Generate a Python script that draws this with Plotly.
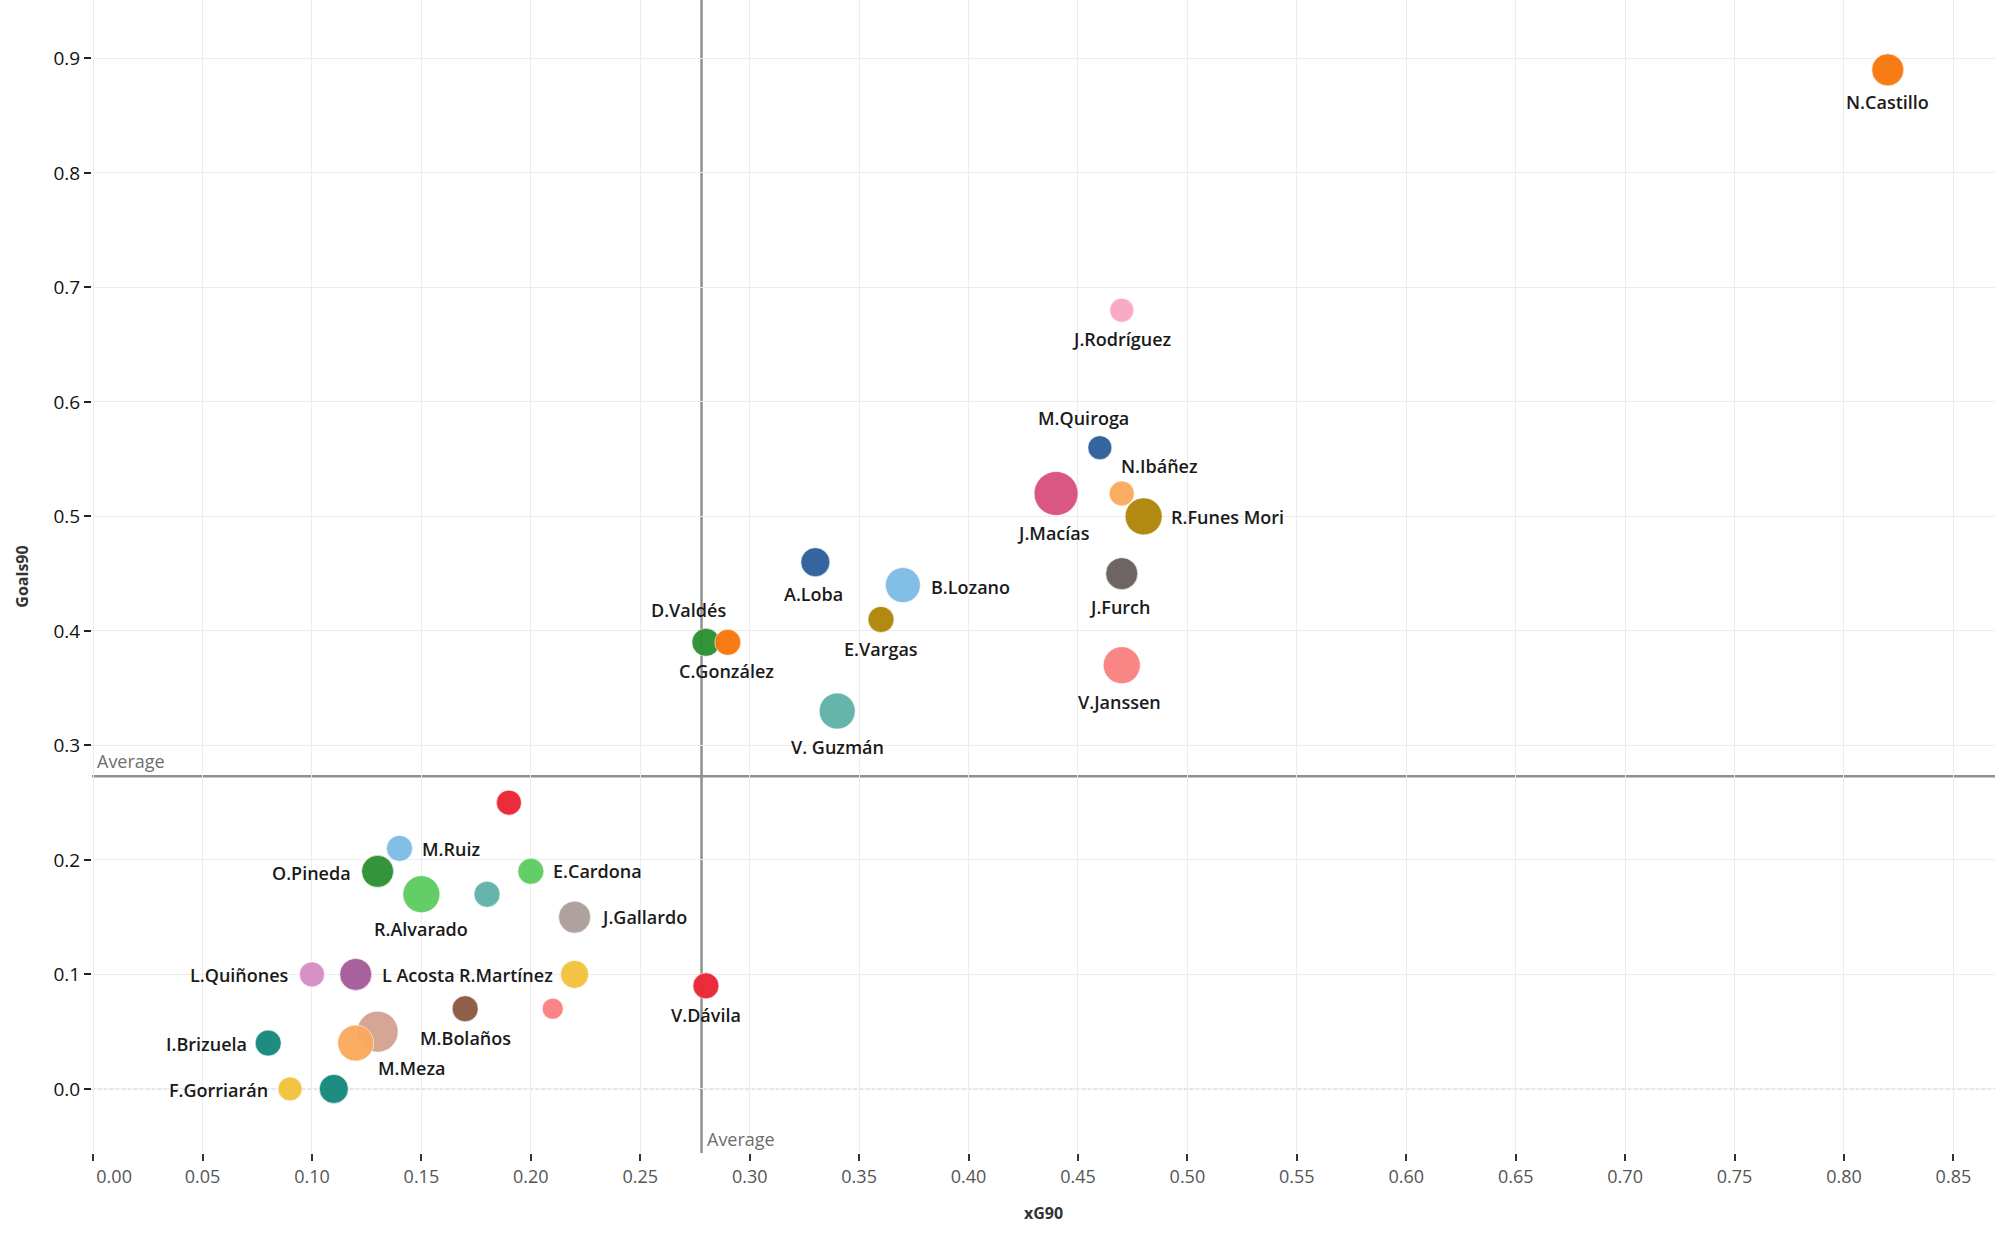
import plotly.graph_objects as go

# ---------------- data ----------------
players = ["N.Castillo", "J.Rodríguez", "M.Quiroga", "N.Ibáñez", "J.Macías",
           "R.Funes Mori", "J.Furch", "V.Janssen", "A.Loba", "B.Lozano",
           "E.Vargas", "D.Valdés", "C.González", "V. Guzmán", "",
           "M.Ruiz", "O.Pineda", "R.Alvarado", "", "E.Cardona",
           "J.Gallardo", "L.Quiñones", "L Acosta", "R.Martínez", "M.Bolaños",
           "", "V.Dávila", "I.Brizuela", "M.Meza", "",
           "F.Gorriarán", ""]
xg90 = [0.82, 0.47, 0.46, 0.47, 0.44,
        0.48, 0.47, 0.47, 0.33, 0.37,
        0.36, 0.28, 0.29, 0.34, 0.19,
        0.14, 0.13, 0.15, 0.18, 0.20,
        0.22, 0.10, 0.12, 0.22, 0.17,
        0.21, 0.28, 0.08, 0.13, 0.12,
        0.09, 0.11]
goals90 = [0.89, 0.68, 0.56, 0.52, 0.52,
           0.50, 0.45, 0.37, 0.46, 0.44,
           0.41, 0.39, 0.39, 0.33, 0.25,
           0.21, 0.19, 0.17, 0.17, 0.19,
           0.15, 0.10, 0.10, 0.10, 0.07,
           0.07, 0.09, 0.04, 0.05, 0.04,
           0.00, 0.00]
bubble = [32, 24, 24, 25, 44,
          37, 32, 37, 29, 35,
          26, 28, 26, 36, 25,
          26, 32, 37, 26, 26,
          32, 25, 32, 28, 26,
          21, 26, 26, 41, 36,
          24, 29]
avg_xg90 = 0.278
avg_goals90 = 0.273

x_ticks = [0.00, 0.05, 0.10, 0.15, 0.20, 0.25, 0.30, 0.35, 0.40, 0.45,
           0.50, 0.55, 0.60, 0.65, 0.70, 0.75, 0.80, 0.85]
y_ticks = [0.0, 0.1, 0.2, 0.3, 0.4, 0.5, 0.6, 0.7, 0.8, 0.9]

# ---------------- styles ----------------
colors = ["#F7780E", "#F9A8C6", "#2F619B", "#FBAA5E", "#D9527F",
          "#B0860A", "#6A5F5E", "#F98282", "#2F619B", "#7FBCE6",
          "#B0860A", "#2E9134", "#F7780E", "#62B3A8", "#EB2637",
          "#7FBCE6", "#2E9134", "#5ECC62", "#62B3A8", "#5ECC62",
          "#AC9E9B", "#D68EC4", "#A55D9B", "#F3C23E", "#8C5A44",
          "#F98282", "#EB2637", "#168A7D", "#D4A393", "#FBAA5E",
          "#F3C23E", "#168A7D"]

# label placement: (anchor, dx, dy) in pixels, dy positive = downward
label_place = {
    "N.Castillo": ("center", 0, 32),
    "J.Rodríguez": ("center", 0, 29),
    "M.Quiroga": ("center", -16, -30),
    "N.Ibáñez": ("center", 38, -27),
    "J.Macías": ("center", -3, 40),
    "R.Funes Mori": ("left", 25, 1),
    "J.Furch": ("center", -2, 33),
    "V.Janssen": ("center", -2, 37),
    "A.Loba": ("center", -2, 32),
    "B.Lozano": ("left", 26, 2),
    "E.Vargas": ("center", 0, 30),
    "D.Valdés": ("center", -17, -32),
    "C.González": ("center", -1, 29),
    "V. Guzmán": ("center", 0, 36),
    "M.Ruiz": ("left", 20, 1),
    "O.Pineda": ("right", -25, 2),
    "R.Alvarado": ("center", 0, 35),
    "E.Cardona": ("left", 20, 0),
    "J.Gallardo": ("left", 24, 0),
    "L.Quiñones": ("right", -21, 1),
    "L Acosta": ("left", 24, 1),
    "R.Martínez": ("right", -20, 1),
    "M.Bolaños": ("center", 0, 29),
    "V.Dávila": ("center", 0, 29),
    "I.Brizuela": ("right", -19, 1),
    "M.Meza": ("center", 34, 36),
    "F.Gorriarán": ("right", -20, 1),
}

FONT = "Open Sans"
LABEL_COLOR = "#1a1a1a"

fig = go.Figure()

# zero line (dotted)
fig.add_hline(y=0, line=dict(color="#b5b5b5", width=1.2, dash="dot"), layer="below")

# average lines
fig.add_hline(y=avg_goals90, line=dict(color="#8f8f8f", width=2.5), layer="below")
fig.add_vline(x=avg_xg90, line=dict(color="#8f8f8f", width=2.5), layer="below")

fig.add_trace(go.Scatter(
    x=xg90, y=goals90, mode="markers",
    marker=dict(size=bubble, sizemode="diameter", color=colors, opacity=0.97,
                line=dict(color="rgba(255,255,255,0.6)", width=1)),
    text=players, hoverinfo="text+x+y", showlegend=False,
))

annotations = []
for name, xv, yv in zip(players, xg90, goals90):
    if not name:
        continue
    anchor, dx, dy = label_place[name]
    annotations.append(dict(
        x=xv, y=yv, xref="x", yref="y", text=name, showarrow=False,
        xanchor=anchor, yanchor="middle", xshift=dx, yshift=-dy,
        font=dict(family=FONT, size=18, color=LABEL_COLOR, weight=600),
    ))

# "Average" reference labels
annotations.append(dict(
    x=0, y=avg_goals90, xref="paper", yref="y", text="Average", showarrow=False,
    xanchor="left", yanchor="bottom", xshift=3, yshift=1,
    font=dict(family=FONT, size=18, color="#6e6e6e"),
))
annotations.append(dict(
    x=avg_xg90, y=0, xref="x", yref="paper", text="Average", showarrow=False,
    xanchor="left", yanchor="bottom", xshift=3, yshift=0,
    font=dict(family=FONT, size=18, color="#6e6e6e"),
))

# first x tick label sits just inside the axis start, as in the original
x_ticktext = [f"{v:.2f}" for v in x_ticks]
x_ticktext[0] = "\u00a0" * 9 + x_ticktext[0]

fig.update_layout(
    width=2000, height=1239,
    margin=dict(l=92, r=5, t=0, b=86),
    paper_bgcolor="white", plot_bgcolor="white",
    annotations=annotations,
    xaxis=dict(
        range=[-0.0005, 0.869], tickvals=x_ticks, ticktext=x_ticktext,
        showgrid=True, gridcolor="#ececec", gridwidth=1,
        zeroline=False, showline=False, automargin=False,
        ticks="outside", ticklen=7, tickcolor="#333", tickwidth=1.5,
        tickfont=dict(family=FONT, size=18, color="#555555"),
        title=dict(text="xG90", font=dict(family=FONT, size=16, color="#333333", weight=700),
                   standoff=21),
    ),
    yaxis=dict(
        range=[-0.056, 0.951], tickvals=y_ticks,
        ticktext=[f"{v:.1f}" for v in y_ticks],
        showgrid=True, gridcolor="#ececec", gridwidth=1,
        zeroline=False, showline=False, automargin=False,
        ticks="outside", ticklen=7, tickcolor="#222", tickwidth=1.5,
        tickfont=dict(family=FONT, size=19, color="#111111"),
        title=dict(text="Goals90", font=dict(family=FONT, size=16, color="#333333", weight=700),
                   standoff=20),
    ),
)

fig.write_html("out.html", config={"displayModeBar": False},
               post_script="document.body.style.margin='0px';")
